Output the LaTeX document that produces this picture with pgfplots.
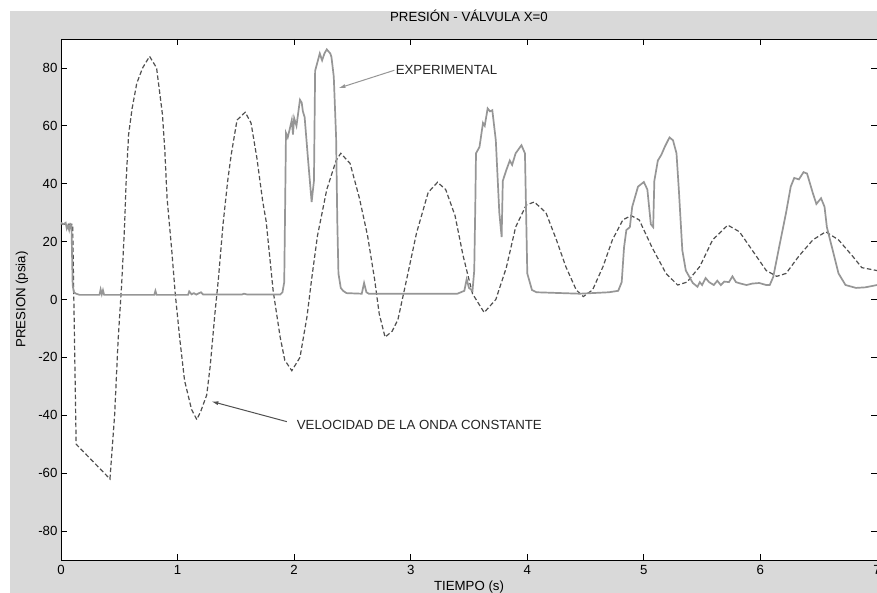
\documentclass[border=0pt]{standalone}
\usepackage{fontspec}
\setmainfont{Liberation Sans}
\usepackage{pgfplots}
\pgfplotsset{compat=1.18}
\usetikzlibrary{arrows.meta}
\definecolor{figbg}{RGB}{217,217,217}
\definecolor{expcol}{RGB}{150,150,150}
\definecolor{velcol}{RGB}{80,80,80}
\begin{document}
\begin{tikzpicture}[font=\fontsize{13.3}{16}\selectfont]
\fill[white] (-61bp,-33bp) rectangle (816bp,560bp);
\fill[figbg] (-51bp,-33bp) rectangle (816bp,549bp);
\begin{axis}[
  at={(0,0)}, anchor=south west,
  scale only axis, width=816bp, height=521bp,
  xmin=0, xmax=7, ymin=-90, ymax=90,
  xtick={0,1,2,3,4,5,6,7},
  ytick={-80,-60,-40,-20,0,20,40,60,80},
  tick align=inside, major tick length=6bp,
  axis line style={line width=0.8bp},
  tick style={line width=0.8bp, black},
  axis background/.style={fill=white},
  /pgf/number format/assume math mode=true,
  xticklabel style={yshift=-2bp},
  title={PRESIÓN - VÁLVULA X=0},
  title style={at={(axis description cs:0.5,1.0326)}, anchor=center},
  xlabel={TIEMPO (s)},
  xlabel style={at={(axis description cs:0.5,-0.052)}, anchor=center},
  ylabel={PRESION (psia)},
  every axis y label/.style={at={(axis description cs:-0.0478,0.5)}, rotate=90, anchor=center},
]
\addplot[velcol, line width=1.2bp, dash pattern=on 4.5bp off 2.5bp] coordinates {
(0,26) (0.05,26) (0.10,26) (0.13,-50) (0.42,-62) (0.46,-40) (0.49,-14) (0.52,5)
(0.545,25) (0.56,42) (0.58,57) (0.61,66) (0.65,74.7) (0.70,80) (0.76,84) (0.82,80)
(0.87,64) (0.89,52) (0.91,35) (0.95,17) (0.98,2) (1.02,-14) (1.06,-28) (1.12,-38)
(1.165,-41.5) (1.20,-38.5) (1.25,-33) (1.28,-23) (1.32,-5) (1.35,7) (1.39,26) (1.43,41)
(1.46,50) (1.51,62) (1.58,64.7) (1.63,61) (1.68,49) (1.73,34) (1.76,27) (1.82,3)
(1.88,-13) (1.92,-21) (1.98,-24.6) (2.05,-20) (2.11,-6) (2.15,7) (2.20,22) (2.28,38)
(2.36,48) (2.40,50.5) (2.48,47) (2.56,35) (2.63,22) (2.69,7) (2.73,-5) (2.78,-13)
(2.84,-11) (2.89,-7) (2.96,6) (3.05,23) (3.15,37) (3.23,40.5) (3.30,38) (3.38,29)
(3.45,15) (3.53,2) (3.63,-4.5) (3.73,0) (3.82,11) (3.90,25) (3.99,32.6) (4.06,33.7)
(4.16,30) (4.25,20.6) (4.33,11.4) (4.42,3.3) (4.48,1) (4.56,3.3) (4.65,11.4) (4.73,20.6)
(4.82,27.5) (4.89,29) (4.96,27.5) (5.07,18) (5.19,9) (5.29,5) (5.37,6) (5.48,11.4)
(5.59,20.6) (5.72,25.7) (5.82,23.4) (5.93,17) (6.05,10) (6.14,8) (6.22,9) (6.33,15)
(6.45,20.6) (6.56,23.4) (6.67,20.6) (6.79,15) (6.87,11) (7.0,10)
};
\addplot[expcol, line width=1.7bp] coordinates {
(0,26.5) (0.02,26) (0.04,26.5) (0.05,24.5) (0.06,25.5) (0.07,24) (0.08,26) (0.09,25.5)
(0.095,15) (0.10,5) (0.11,2.5) (0.13,2) (0.16,1.6) (0.33,1.6) (0.34,3.5) (0.35,1.8)
(0.36,3.2) (0.37,1.6) (0.80,1.6) (0.81,3) (0.82,1.6) (1.09,1.6) (1.10,2.8) (1.12,1.8)
(1.14,2.2) (1.16,1.7) (1.20,2.5) (1.22,1.7) (1.55,1.7) (1.57,2) (1.60,1.7) (1.88,1.7)
(1.90,2.5) (1.915,6) (1.925,40) (1.93,57.5) (1.945,56) (1.96,58.5) (1.98,62) (1.99,57)
(2.0,62.7) (2.02,60) (2.04,66) (2.05,69) (2.065,68) (2.075,65) (2.09,63) (2.12,48)
(2.15,33.7) (2.17,41) (2.18,79) (2.20,82) (2.22,85) (2.24,82.6) (2.26,85) (2.28,86.4)
(2.31,85) (2.32,83.8) (2.34,77) (2.36,56) (2.37,27.5) (2.38,9) (2.40,4) (2.42,3)
(2.45,2.2) (2.58,2) (2.60,5.7) (2.62,2.5) (2.64,2) (3.40,2) (3.46,3) (3.48,7)
(3.50,4) (3.53,3) (3.545,10) (3.555,35) (3.56,50.5) (3.59,52.7) (3.62,61) (3.635,60)
(3.66,66) (3.68,65) (3.70,65.4) (3.73,55) (3.76,30) (3.78,21.6) (3.79,41) (3.82,44.7)
(3.85,48) (3.87,46.5) (3.90,50.5) (3.95,53.3) (3.98,50.5) (3.99,30) (4.0,9) (4.04,3.3)
(4.08,2.5) (4.3,2.2) (4.45,2) (4.70,2.5) (4.78,3) (4.81,6) (4.83,18) (4.85,24)
(4.88,25) (4.90,32) (4.95,39) (5.00,40.6) (5.03,38) (5.06,26) (5.08,25) (5.09,41)
(5.12,48) (5.15,50) (5.18,52.8) (5.22,56) (5.25,55) (5.28,50.5) (5.30,38) (5.33,17)
(5.36,10) (5.42,5.7) (5.46,4.4) (5.48,6) (5.50,5) (5.53,7.4) (5.56,6) (5.60,5)
(5.63,6.5) (5.66,5) (5.69,6.2) (5.73,6) (5.76,8) (5.79,6) (5.83,5.5) (5.88,5)
(5.93,5.5) (5.99,5.7) (6.05,5) (6.08,5) (6.11,7.8) (6.16,18) (6.22,30) (6.26,39)
(6.29,42) (6.33,41.5) (6.37,44) (6.40,43.5) (6.45,36.7) (6.48,33) (6.52,35) (6.55,32)
(6.57,25) (6.62,17) (6.67,9) (6.73,5) (6.82,4) (6.90,4.2) (7.0,5)
};
\draw[-{Latex[length=7bp,width=4bp]}, color=expcol, line width=1bp] (axis cs:2.86,79.2) -- (axis cs:2.38,73);
\node[anchor=west, inner sep=0pt, text=black!85] at (axis cs:2.87,79.2) {EXPERIMENTAL};
\draw[-{Latex[length=7bp,width=4bp]}, color=velcol, line width=1bp] (axis cs:1.937,-42.2) -- (axis cs:1.29,-35.2);
\node[anchor=west, inner sep=0pt, text=black!85] at (axis cs:2.022,-43.2) {VELOCIDAD DE LA ONDA CONSTANTE};
\end{axis}
\pgfresetboundingbox
\useasboundingbox (-61bp,-33bp) rectangle (816bp,560bp);
\end{tikzpicture}
\end{document}
